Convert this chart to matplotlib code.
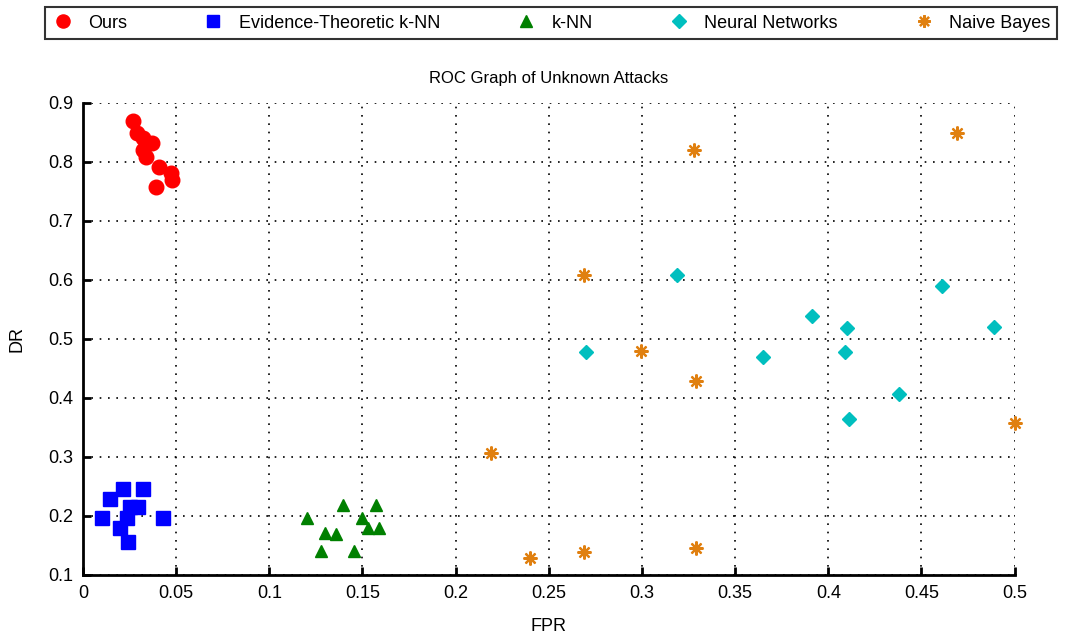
import matplotlib
matplotlib.use('Agg')
import matplotlib.pyplot as plt
import numpy as np

plt.rcParams['font.family'] = ['Liberation Sans', 'DejaVu Sans']

# Ours
ours_fpr = [0.027, 0.029, 0.032, 0.037, 0.032, 0.034, 0.041, 0.047, 0.048, 0.039]
ours_dr = [0.870, 0.849, 0.840, 0.832, 0.820, 0.808, 0.792, 0.781, 0.770, 0.758]

# Evidence-Theoretic k-NN
etk_fpr = [0.0215, 0.032, 0.0145, 0.025, 0.0295, 0.010, 0.0235, 0.043, 0.020, 0.024]
etk_dr = [0.246, 0.246, 0.229, 0.215, 0.215, 0.197, 0.197, 0.197, 0.180, 0.156]

# k-NN
knn_fpr = [0.1395, 0.157, 0.120, 0.150, 0.130, 0.136, 0.153, 0.159, 0.128, 0.1455]
knn_dr = [0.219, 0.219, 0.197, 0.197, 0.171, 0.169, 0.180, 0.180, 0.141, 0.141]

# Neural Networks
nn_fpr = [0.319, 0.270, 0.391, 0.365, 0.461, 0.410, 0.489, 0.409, 0.438, 0.411]
nn_dr = [0.609, 0.478, 0.539, 0.470, 0.590, 0.519, 0.520, 0.478, 0.407, 0.364]

# Naive Bayes
nb_fpr = [0.328, 0.469, 0.269, 0.2995, 0.329, 0.500, 0.219, 0.240, 0.269, 0.329]
nb_dr = [0.820, 0.849, 0.609, 0.480, 0.429, 0.358, 0.307, 0.129, 0.139, 0.146]

fig = plt.figure(figsize=(10.68, 6.43), dpi=100)
ax = fig.add_axes([0.0777, 0.1058, 0.8723, 0.7342])

ax.plot(ours_fpr, ours_dr, 'o', color='#ff0000', ms=10.5, mec='#ff0000', label='Ours', clip_on=False)
ax.plot(etk_fpr, etk_dr, 's', color='#0000ff', ms=10, mec='#0000ff', label='Evidence-Theoretic k-NN', clip_on=False)
ax.plot(knn_fpr, knn_dr, '^', color='#008000', ms=9, mec='#008000', label='k-NN', clip_on=False)
ax.plot(nn_fpr, nn_dr, 'D', color='#00bfbf', ms=7.5, mec='#00bfbf', label='Neural Networks', clip_on=False)
ax.plot(nb_fpr, nb_dr, marker=(8, 2, 0), ls='none', color='#e08010', mec='#e08010',
        ms=10, mew=1.6, label='Naive Bayes', clip_on=False)
ax.plot(nb_fpr, nb_dr, 'o', color='#e08010', ms=4, mec='#e08010', clip_on=False)

ax.set_xlim(0, 0.5)
ax.set_ylim(0.1, 0.9)
ax.set_xticks(np.arange(0, 0.501, 0.05))
ax.set_xticklabels(['0', '0.05', '0.1', '0.15', '0.2', '0.25', '0.3', '0.35', '0.4', '0.45', '0.5'])
ax.set_yticks(np.arange(0.1, 0.901, 0.1))
ax.set_yticklabels(['0.1', '0.2', '0.3', '0.4', '0.5', '0.6', '0.7', '0.8', '0.9'])
ax.grid(True, color='black', linestyle=(0, (1, 4)), linewidth=1.2)
ax.spines['top'].set_visible(False)
ax.spines['right'].set_visible(False)
ax.spines['left'].set_linewidth(2)
ax.spines['bottom'].set_linewidth(2)
ax.tick_params(direction='in', length=6, width=2, labelsize=13, pad=7)

ax.set_xlabel('FPR', fontsize=13, labelpad=12)
ax.set_ylabel('DR', fontsize=13, labelpad=16)
ax.set_title('ROC Graph of Unknown Attacks', fontsize=12, pad=14)

leg = fig.legend(loc='center', bbox_to_anchor=(0.042, 0.933, 0.948, 0.062), mode='expand',
                 ncol=5, fontsize=13, frameon=True, fancybox=False, edgecolor='black',
                 handlelength=1.2, borderaxespad=0, markerscale=0.9)
leg.get_frame().set_linewidth(1.5)

fig.savefig('out.png', dpi=100)
